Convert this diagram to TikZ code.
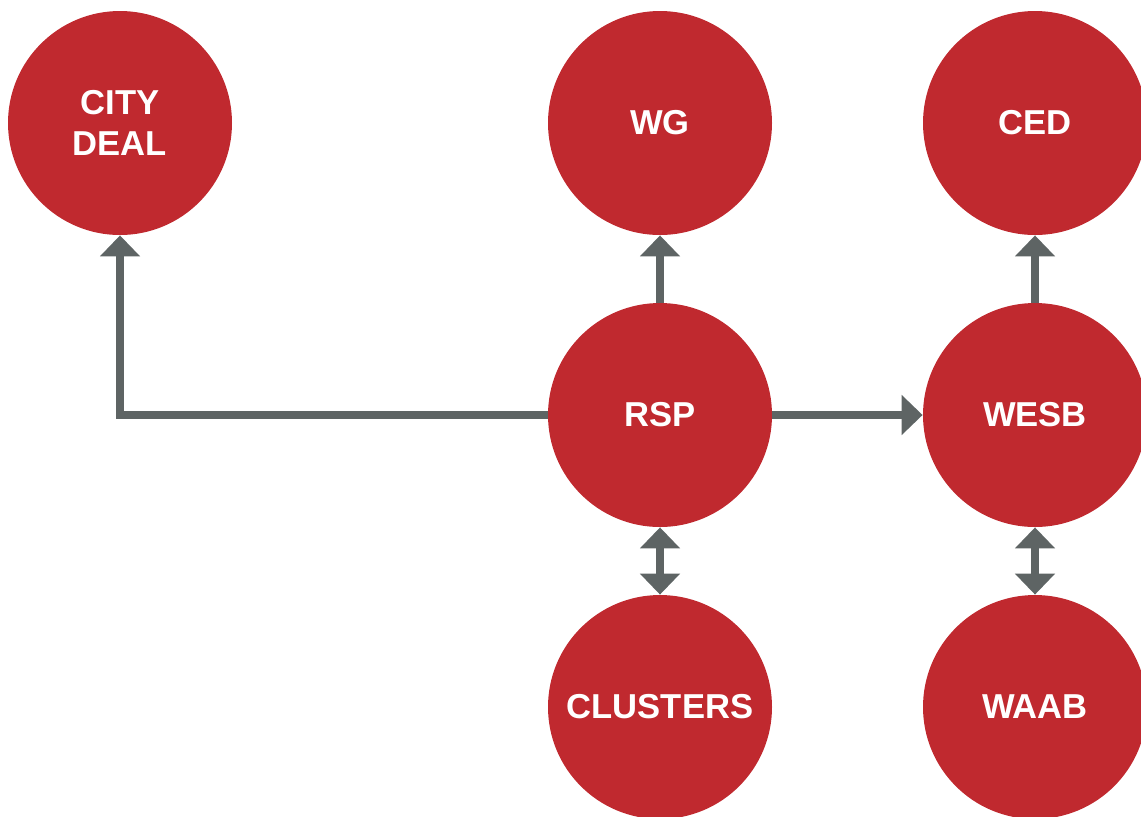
\documentclass[tikz,border=0pt]{standalone}
\usepackage{fontspec}
\setmainfont{Liberation Sans}
\usetikzlibrary{arrows.meta}
\definecolor{bodyred}{HTML}{C0292F}
\definecolor{linkgray}{HTML}{5E6464}
\tikzset{
    body/.style={circle, fill=bodyred, minimum size=112pt, inner sep=0pt,
        text=white, font=\fontsize{17.3}{20.5}\selectfont\bfseries, align=center},
    link/.style={draw=linkgray, line width=3.75pt, -{Triangle[width=19.5pt,length=10.5pt]}},
    twolink/.style={link, {Triangle[width=19.5pt,length=10.5pt]}-{Triangle[width=19.5pt,length=10.5pt]}}
}
\begin{document}
\begin{tikzpicture}[x=0.5pt,y=-0.5pt]
        \useasboundingbox (0,0) rectangle (1141,816);
        \node[body] (city) at (120,123) {CITY\\DEAL};
        \node[body] (wg) at (660,123) {WG};
        \node[body] (ced) at (1035,123) {CED};
        \node[body] (rsp) at (660,415) {RSP};
        \node[body] (wesb) at (1035,415) {WESB};
        \node[body] (clusters) at (660,707) {CLUSTERS};
        \node[body] (waab) at (1035,707) {WAAB};
        % links out of RSP
        \draw[link] (rsp.west) -| (city.south);
        \draw[link] (rsp.north) -- (wg.south);
        \draw[link] (rsp.east) -- (wesb.west);
        \draw[twolink] (rsp.south) -- (clusters.north);
        % links out of WESB
        \draw[link] (wesb.north) -- (ced.south);
        \draw[twolink] (wesb.south) -- (waab.north);
    \end{tikzpicture}
\end{document}
